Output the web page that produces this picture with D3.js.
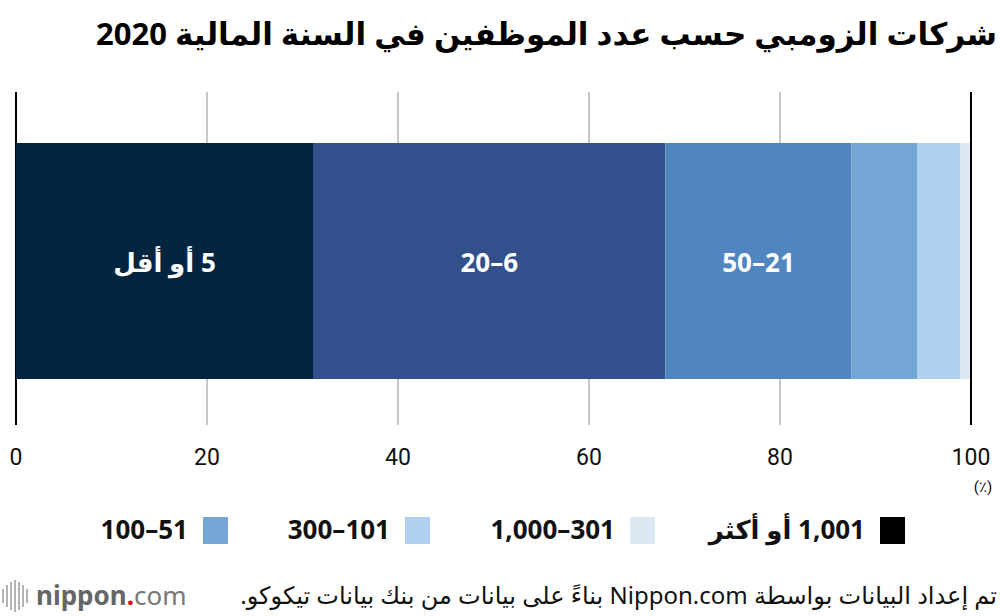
<!DOCTYPE html>
<html>
<head>
<meta charset="utf-8">
<script src="https://cdn.jsdelivr.net/npm/d3@7"></script>
<style>
 body { margin: 0; background: #fff; }
 text { font-family: "Noto Sans", "DejaVu Sans", sans-serif; }
</style>
</head>
<body>
<script>
// data
var categories = ["5 أو أقل", "6–20", "21–50", "51–100", "101–300", "301–1,000", "1,001 أو أكثر"];
var shares = [31.1, 36.9, 19.5, 6.9, 4.5, 1.0, 0.1];
var colors = ["#03253f", "#31508c", "#5185bf", "#75a7d6", "#afd0f1", "#dce9f4", "#000000"];
var ticks = [0, 20, 40, 60, 80, 100];
var legendItems = [6, 5, 4, 3]; // index into categories, right to left

var width = 1000, height = 616;

var svg = d3.select("body").append("svg")
  .attr("width", width)
  .attr("height", height);

var x = d3.scaleLinear().domain([0, 100]).range([16, 971]);

// title
svg.append("text")
  .attr("x", 997)
  .attr("y", 45)
  .attr("direction", "rtl")
  .attr("text-anchor", "start")
  .style("font-size", "31px")
  .style("font-weight", "bold")
  .text("شركات الزومبي حسب عدد الموظفين في السنة المالية 2020");

// grid lines
svg.append("g").selectAll("line")
  .data(ticks)
  .enter().append("line")
  .attr("x1", function(d) { return x(d); })
  .attr("x2", function(d) { return x(d); })
  .attr("y1", 92)
  .attr("y2", 425)
  .style("stroke", function(d) { return (d == 0 || d == 100) ? "#000" : "#c8c8c8"; })
  .style("stroke-width", 2);

// stacked segments
var starts = [];
var acc = 0;
shares.forEach(function(v) { starts.push(acc); acc += v; });

svg.append("g").selectAll("rect")
  .data(shares)
  .enter().append("rect")
  .attr("x", function(d, i) { return x(starts[i]); })
  .attr("width", function(d, i) { return x(starts[i] + d) - x(starts[i]); })
  .attr("y", 143)
  .attr("height", 236)
  .style("fill", function(d, i) { return colors[i]; });

// redraw the 100 line on top
svg.append("line")
  .attr("x1", x(100)).attr("x2", x(100))
  .attr("y1", 92).attr("y2", 425)
  .style("stroke", "#000").style("stroke-width", 2);

// labels in the three big segments
svg.append("g").selectAll("text")
  .data(shares.slice(0, 3))
  .enter().append("text")
  .attr("x", function(d, i) { return x(starts[i] + d / 2); })
  .attr("y", 272)
  .attr("direction", "rtl")
  .attr("text-anchor", "middle")
  .style("font-size", "26px")
  .style("font-weight", "bold")
  .style("fill", "#fff")
  .text(function(d, i) { return categories[i]; });

// tick labels
svg.append("g").selectAll("text")
  .data(ticks)
  .enter().append("text")
  .attr("x", function(d) { return x(d); })
  .attr("y", 465)
  .attr("text-anchor", "middle")
  .style("font-family", "'Liberation Sans Narrow', 'Roboto', sans-serif")
  .style("font-size", "23px")
  .style("fill", "#111")
  .text(function(d) { return d; });

svg.append("text")
  .attr("x", x(100) + 12)
  .attr("y", 492)
  .attr("text-anchor", "middle")
  .style("font-family", "'Liberation Sans Narrow', 'Roboto', sans-serif")
  .style("font-size", "15px")
  .style("fill", "#111")
  .text("(٪)");

// legend
var legendRight = [905, 655, 430, 228];
var legend = svg.append("g").selectAll("g")
  .data(legendItems)
  .enter().append("g")
  .attr("transform", function(d, i) { return "translate(" + legendRight[i] + ",530)"; });

legend.append("rect")
  .attr("x", -25)
  .attr("y", -13)
  .attr("width", 25)
  .attr("height", 27)
  .style("fill", function(d) { return colors[d]; });

legend.append("text")
  .attr("x", -40)
  .attr("y", 9)
  .attr("direction", "rtl")
  .attr("text-anchor", "start")
  .style("font-size", "26px")
  .style("font-weight", "bold")
  .style("fill", "#111")
  .text(function(d) { return categories[d]; });

// source
svg.append("text")
  .attr("x", 997)
  .attr("y", 604)
  .attr("direction", "rtl")
  .attr("text-anchor", "start")
  .style("font-size", "24px")
  .style("fill", "#111")
  .text("تم إعداد البيانات بواسطة Nippon.com بناءً على بيانات من بنك بيانات تيكوكو.");

// logo
var bars = [[3, 14], [7, 22], [11, 28], [15, 32], [19, 28], [23, 22], [27, 14]];
var logo = svg.append("g").attr("transform", "translate(0,596)");
logo.selectAll("line")
  .data(bars)
  .enter().append("line")
  .attr("x1", function(d) { return d[0]; })
  .attr("x2", function(d) { return d[0]; })
  .attr("y1", function(d) { return -d[1] / 2; })
  .attr("y2", function(d) { return d[1] / 2; })
  .style("stroke", "#9a9a9a")
  .style("stroke-width", 1.5);

var lt = logo.append("text")
  .attr("x", 36)
  .attr("y", 9)
  .style("font-size", "26px")
  .style("fill", "#666");
lt.append("tspan").style("font-weight", "bold").text("nippon");
lt.append("tspan").style("font-weight", "bold").style("fill", "#e60012").text(".");
lt.append("tspan").style("fill", "#777").text("com");
</script>
</body>
</html>
